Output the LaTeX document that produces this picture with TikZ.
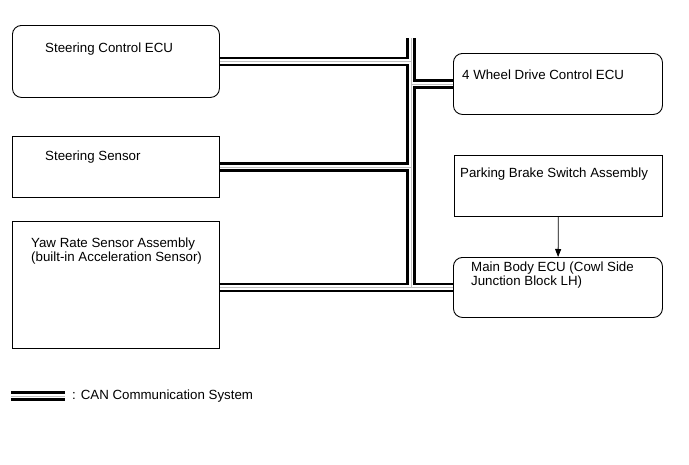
\documentclass[tikz,border=0pt]{standalone}
\usepackage{fontspec}
\setmainfont{Liberation Sans}
\usepackage{tikz}
\usetikzlibrary{positioning, arrows.meta}

\begin{document}
\begin{tikzpicture}[
    x=1pt, y=-1pt,
    every node/.style={font=\fontsize{13.3}{13.8}\selectfont},
    box/.style={draw, line width=0.9pt, anchor=north west, inner sep=0pt,
                minimum width=207pt, minimum height=61pt},
    ecu/.style={box, rounded corners=9pt},
    lbl/.style={inner sep=0pt, align=left},
    canout/.style={line width=9.5pt, black},
    canin/.style={line width=4.5pt, white},
    canmid/.style={line width=0.7pt, gray!50},
    arrow/.style={-{Triangle[length=8pt, width=6pt]}, line width=0.8pt},
]
\useasboundingbox (0,0) rectangle (689,464);

% --- left column ---
\node[ecu, minimum height=72pt]  (scu) at (12,25)  {};
\node[box]                       (ss)  at (12,136) {};
\node[box, minimum height=127pt] (yaw) at (12,221) {};

% --- right column ---
\node[ecu, minimum width=209pt]  (fwd) at (453,53)  {};
\node[box, minimum width=208pt]  (pbs) at (454,155) {};
\node[ecu, minimum width=209pt, minimum height=60pt] (mbe) at (453,257) {};

% --- texts ---
\node[lbl, below right=18pt and 33pt of scu.north west] (scutxt) {Steering Control ECU};
\node[lbl, below right=15pt and 33pt of ss.north west]  (sstxt)  {Steering Sensor};
\node[lbl, below right=17pt and 19pt of yaw.north west] (yawtxt) {Yaw Rate Sensor Assembly\\(built-in Acceleration Sensor)};
\node[lbl, below right=17pt and 9pt of fwd.north west]  (fwdtxt) {4 Wheel Drive Control ECU};
\node[lbl, below right=13pt and 6pt of pbs.north west]  (pbstxt) {Parking Brake Switch Assembly};
\node[lbl, below right=5pt and 18pt of mbe.north west]  (mbetxt) {Main Body ECU (Cowl Side\\Junction Block LH)};

% --- CAN bus ---
\coordinate (bustop) at (411,38);
\coordinate (lgA) at (11,396);
\coordinate (lgB) at (65,396);
\foreach \lay in {canout, canin, canmid} {
  \draw[\lay] (scu.east) -| (bustop);
  \draw[\lay] (ss.east) -| (bustop);
  \draw[\lay] (bustop) |- (mbe.west);
  \draw[\lay] (yaw.east |- mbe.west) -- (mbe.west);
  \draw[\lay] (bustop |- fwd.west) -- (fwd.west);
  \draw[\lay] (lgA) -- (lgB);
}

\draw[arrow] (pbs) -- (mbe);

% --- legend ---
\node[lbl, anchor=west, right=7pt of lgB] (lgtxt) {: CAN Communication System};
\end{tikzpicture}
\end{document}
